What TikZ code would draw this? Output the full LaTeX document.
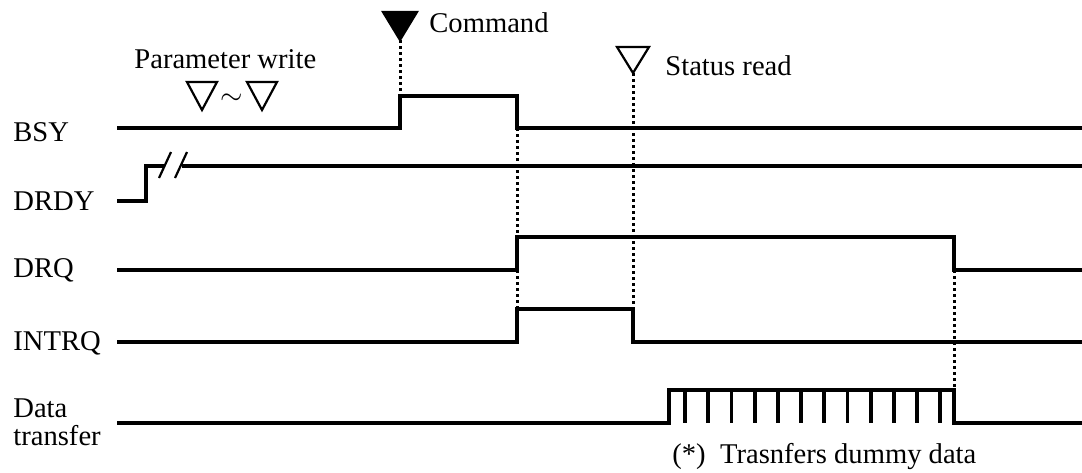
\documentclass[tikz,border=0pt]{standalone}
\usepackage{fontspec}
\setmainfont{Liberation Serif}
\begin{document}
\begin{tikzpicture}[x = 0.5pt, y = -0.5pt,
		sig/.style = {line width = 1.9pt, line join = miter},
		guide/.style = {line width = 1.5pt, dash pattern = on 1.5pt off 1.5pt},
		mark tri/.style = {line width = 1.1pt, line join = miter},
		lbl/.style = {inner sep = 0pt, anchor = base west, font = \fontsize{14.3}{16}\selectfont}]
		\useasboundingbox (0, 0) rectangle (1082, 472);
		%%%%%%%%%%%%%
		\node [lbl] (bsy) at (13, 141) {BSY};
		\node [lbl] (drdy) at (13, 210) {DRDY};
		\node [lbl] (drq) at (13, 277) {DRQ};
		\node [lbl] (intrq) at (13, 350) {INTRQ};
		\node [lbl] (data) at (13, 417) {Data};
		\node [lbl] (transfer) at (13, 445) {transfer};
		\node [lbl] (param) at (134, 68) {Parameter write};
		\node [lbl] (cmd) at (429, 32) {Command};
		\node [lbl] (status) at (665, 75) {Status read};
		\node [lbl] (dummy) at (672, 463) {(*)~~Trasnfers dummy data};
		\node [inner sep = 0pt, font = \fontsize{15}{15}\selectfont] (tilde) at (232, 99) {$\sim$};
		%%%%%%%%%%%%%
		\coordinate (cmdtip) at (400, 40);
		\coordinate (sttip) at (633, 73);
		\draw [mark tri, fill = black] (cmdtip) -- ++(-17, -28) -- ++(34, 0) -- cycle;
		\draw [mark tri] (sttip) -- ++(-16, -26) -- ++(32, 0) -- cycle;
		\draw [mark tri] (202, 110) -- ++(-15, -28) -- ++(30, 0) -- cycle;
		\draw [mark tri] (262, 110) -- ++(-15, -28) -- ++(30, 0) -- cycle;
		%%%%%%%%%%%%%
		\coordinate (bsyup) at (400, 96); \coordinate (bsydn) at (517, 128);
		\coordinate (drqup) at (517, 237); \coordinate (drqlo) at (517, 270);
		\coordinate (intup) at (517, 309); \coordinate (intdn) at (633, 309);
		\coordinate (drqdn) at (954, 270); \coordinate (dtdn) at (954, 390);
		%%%%%%%%%%%%%
		\draw [sig] (117, 128) -- (400, 128) -- (bsyup) -- (517, 96) -- (bsydn) -- (1082, 128);
		\draw [sig] (117, 201) -- (146, 201) -- (146, 166) -- (164, 166);
		\draw [sig] (182, 166) -- (1082, 166);
		\draw [line width = 1.1pt] (159, 178) -- (171, 152); \draw [line width = 1.1pt] (175, 178) -- (187, 152);
		\draw [sig] (117, 270) -- (drqlo) -- (drqup) -- (954, 237) -- (drqdn) -- (1082, 270);
		\draw [sig] (117, 342) -- (517, 342) -- (intup) -- (intdn) -- (633, 342) -- (1082, 342);
		\draw [sig] (117, 423) -- (669, 423) -- (669, 390) -- (dtdn) -- (954, 423) -- (1082, 423);
		\foreach \i in {0, ..., 11}
			\draw [sig] ({685 + 23.2*\i}, 390) -- ({685 + 23.2*\i}, 423);
		%%%%%%%%%%%%%
		\draw [guide] (cmdtip) to (bsyup);
		\draw [guide] (bsydn) to (drqup);
		\draw [guide] (drqlo) to (intup);
		\draw [guide] (sttip) to (intdn);
		\draw [guide] (drqdn) to (dtdn);
\end{tikzpicture}
\end{document}
